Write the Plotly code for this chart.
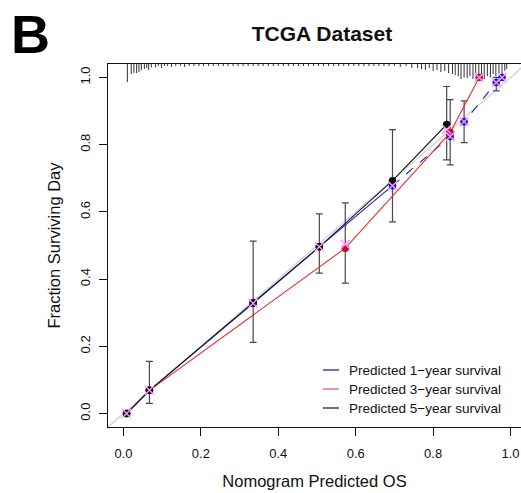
import plotly.graph_objects as go

# ---------------- data ----------------
black_x = [0.008, 0.067, 0.335, 0.506, 0.695, 0.835]
black_y = [0.000, 0.069, 0.330, 0.496, 0.693, 0.860]

red_x = [0.008, 0.067, 0.573, 0.844, 0.919]
red_y = [0.000, 0.069, 0.492, 0.836, 1.000]

blue_x = [0.008, 0.067, 0.335, 0.506, 0.695, 0.844, 0.880, 0.963, 0.978]
blue_y = [0.000, 0.069, 0.328, 0.496, 0.678, 0.824, 0.868, 0.985, 1.000]

# bias-corrected estimates (blue crosses)
corr_x = [0.008, 0.067, 0.335, 0.506, 0.573, 0.695, 0.835, 0.844, 0.880, 0.919, 0.963, 0.978]
corr_y = [0.000, 0.069, 0.328, 0.496, 0.504, 0.678, 0.845, 0.824, 0.868, 1.000, 0.985, 1.000]

# error bars
err_x = [0.067, 0.335, 0.506, 0.573, 0.695, 0.835, 0.844, 0.880, 0.963]
err_mid = [0.069, 0.330, 0.496, 0.492, 0.693, 0.860, 0.836, 0.868, 0.985]
err_lo = [0.030, 0.212, 0.418, 0.388, 0.570, 0.755, 0.740, 0.806, 0.960]
err_hi = [0.155, 0.513, 0.594, 0.627, 0.845, 0.973, 0.934, 0.930, 1.000]

# rug (distribution of predictions) along the top
rug_x = [0.010, 0.020, 0.027, 0.034, 0.040, 0.046, 0.054, 0.060, 0.065, 0.072,
         0.083, 0.090, 0.098, 0.106, 0.114, 0.124, 0.135, 0.147, 0.158, 0.170,
         0.182, 0.195, 0.207, 0.220, 0.232, 0.245, 0.258, 0.270, 0.283, 0.296,
         0.309, 0.322, 0.335, 0.348, 0.361, 0.374, 0.387, 0.400, 0.413, 0.426,
         0.439, 0.452, 0.465, 0.478, 0.491, 0.504, 0.517, 0.530, 0.543, 0.556,
         0.569, 0.582, 0.595, 0.608, 0.621, 0.634, 0.647, 0.660, 0.673, 0.686,
         0.700, 0.715, 0.730, 0.745, 0.760, 0.770, 0.780, 0.790, 0.800, 0.810,
         0.820, 0.830, 0.840, 0.850, 0.857, 0.865, 0.872, 0.880, 0.888, 0.895,
         0.903, 0.910, 0.918, 0.925, 0.932, 0.940, 0.948, 0.955, 0.962, 0.970,
         0.978, 0.985, 0.990]
rug_len = [0.054, 0.030, 0.027, 0.027, 0.024, 0.018, 0.015, 0.012, 0.018, 0.010,
           0.010, 0.006, 0.012, 0.006, 0.006, 0.009, 0.006, 0.006, 0.009, 0.006,
           0.006, 0.006, 0.006, 0.006, 0.006, 0.006, 0.006, 0.006, 0.006, 0.006,
           0.006, 0.006, 0.006, 0.006, 0.006, 0.006, 0.006, 0.006, 0.006, 0.006,
           0.006, 0.006, 0.006, 0.006, 0.006, 0.006, 0.006, 0.006, 0.006, 0.006,
           0.006, 0.006, 0.006, 0.006, 0.006, 0.006, 0.006, 0.006, 0.006, 0.006,
           0.006, 0.009, 0.006, 0.012, 0.012, 0.015, 0.018, 0.012, 0.021, 0.018,
           0.024, 0.021, 0.027, 0.030, 0.033, 0.036, 0.045, 0.040, 0.042, 0.036,
           0.045, 0.033, 0.045, 0.040, 0.045, 0.036, 0.040, 0.030, 0.036, 0.027,
           0.030, 0.021, 0.015]

x_ticks = [0.0, 0.2, 0.4, 0.6, 0.8, 1.0]
y_ticks = [0.0, 0.2, 0.4, 0.6, 0.8, 1.0]
tick_text = ["0.0", "0.2", "0.4", "0.6", "0.8", "1.0"]
legend_labels = ["Predicted 1\u2212year survival",
                 "Predicted 3\u2212year survival",
                 "Predicted 5\u2212year survival"]
legend_colors = ["#1a1acc", "#e06060", "#222222"]

# ---------------- figure ----------------
FONT = "Liberation Sans, Arial, sans-serif"
YTOP = 1.04
fig = go.Figure()

# ideal diagonal
fig.add_trace(go.Scatter(x=[-0.04, 1.04], y=[-0.04, 1.04], mode="lines",
                         line=dict(color="#d6d6d6", width=1.5), hoverinfo="skip"))

# rug
rx, ry = [], []
for xv, lv in zip(rug_x, rug_len):
    rx += [xv, xv, None]
    ry += [YTOP, YTOP - lv, None]
fig.add_trace(go.Scatter(x=rx, y=ry, mode="lines",
                         line=dict(color="#333333", width=1), hoverinfo="skip"))

# error bars
fig.add_trace(go.Scatter(
    x=err_x, y=err_mid, mode="markers", marker=dict(size=1, opacity=0),
    error_y=dict(type="data", symmetric=False,
                 array=[h - m for h, m in zip(err_hi, err_mid)],
                 arrayminus=[m - l for m, l in zip(err_mid, err_lo)],
                 color="#4a4a4a", thickness=1.2, width=3.5),
    hoverinfo="skip"))

# blue series (solid lower part, dashed upper part)
k = blue_x.index(0.695) + 1
fig.add_trace(go.Scatter(x=blue_x[:k], y=blue_y[:k], mode="lines",
                         line=dict(color="#1f1fd6", width=1.1)))
fig.add_trace(go.Scatter(x=blue_x[k - 1:], y=blue_y[k - 1:], mode="lines",
                         line=dict(color="#1f1fd6", width=1.1, dash="dash")))
fig.add_trace(go.Scatter(x=blue_x, y=blue_y, mode="markers",
                         marker=dict(color="#0a14e6", size=7.5, symbol="circle")))

# red series
fig.add_trace(go.Scatter(x=red_x, y=red_y, mode="lines+markers",
                         line=dict(color="#e8302e", width=1.1),
                         marker=dict(color="#c4102e", size=7.5)))

# black series
fig.add_trace(go.Scatter(x=black_x, y=black_y, mode="lines+markers",
                         line=dict(color="#1a1a1a", width=1.1),
                         marker=dict(color="#0a0a0a", size=7.5)))

# corrected estimates
fig.add_trace(go.Scatter(x=corr_x, y=corr_y, mode="markers",
                         marker=dict(symbol="x-thin-open", size=9,
                                     line=dict(color="#2020ff", width=1.4))))

# legend (drawn manually: short line samples + text)
ann = []
shapes = []
PW, PH = 413.0, 363.0  # plot area in px
for i, (lab, col) in enumerate(zip(legend_labels, legend_colors)):
    py = 370 + 19 * i
    yp = (427 - py) / PH
    shapes.append(dict(type="line", xref="paper", yref="paper",
                       x0=(323 - 108) / PW, x1=(339 - 108) / PW, y0=yp, y1=yp,
                       line=dict(color=col, width=1.3)))
    ann.append(dict(text=lab, xref="paper", yref="paper", x=(347 - 108) / PW, y=yp,
                    xanchor="left", yanchor="middle", showarrow=False,
                    font=dict(family=FONT, size=13.5, color="#111")))

ann.append(dict(text="<b>B</b>", xref="paper", yref="paper",
                x=(9 - 108) / PW, y=(427 - 34) / PH, xanchor="left", yanchor="middle",
                showarrow=False, font=dict(family=FONT, size=54, color="#000")))

fig.update_layout(
    width=521, height=493,
    margin=dict(l=108, r=0, t=64, b=66, autoexpand=False),
    paper_bgcolor="white", plot_bgcolor="white",
    showlegend=False,
    font=dict(family=FONT, color="#111"),
    title=dict(text="<b>TCGA Dataset</b>", x=322 / 521, xanchor="center",
               y=1 - 34 / 493, yanchor="middle",
               font=dict(family=FONT, size=21, color="#111")),
    annotations=ann, shapes=shapes,
    xaxis=dict(range=[-0.04, 1.027], tickvals=x_ticks, ticktext=tick_text,
               automargin=False,
               showgrid=False, zeroline=False, showline=True, mirror=True,
               linecolor="#111", linewidth=1.3,
               ticks="outside", ticklen=8, tickwidth=1.2, tickcolor="#111",
               ticklabelstandoff=6,
               tickfont=dict(family=FONT, size=13, color="#111"),
               title=dict(text="Nomogram Predicted OS", standoff=15,
                          font=dict(family=FONT, size=16.5, color="#111"))),
    yaxis=dict(range=[-0.04, 1.04], tickvals=y_ticks, ticktext=tick_text,
               automargin=False,
               showgrid=False, zeroline=False, showline=True,
               linecolor="#111", linewidth=1.3,
               ticks="outside", ticklen=8, tickwidth=1.2, tickcolor="#111",
               tickangle=-90, ticklabelstandoff=4,
               tickfont=dict(family=FONT, size=13, color="#111"),
               title=dict(text="Fraction Surviving Day", standoff=12,
                          font=dict(family=FONT, size=16.5, color="#111"))),
)

fig.write_html("out.html", config={"displayModeBar": False},
               post_script="document.body.style.margin='0';document.body.style.overflow='hidden';")
